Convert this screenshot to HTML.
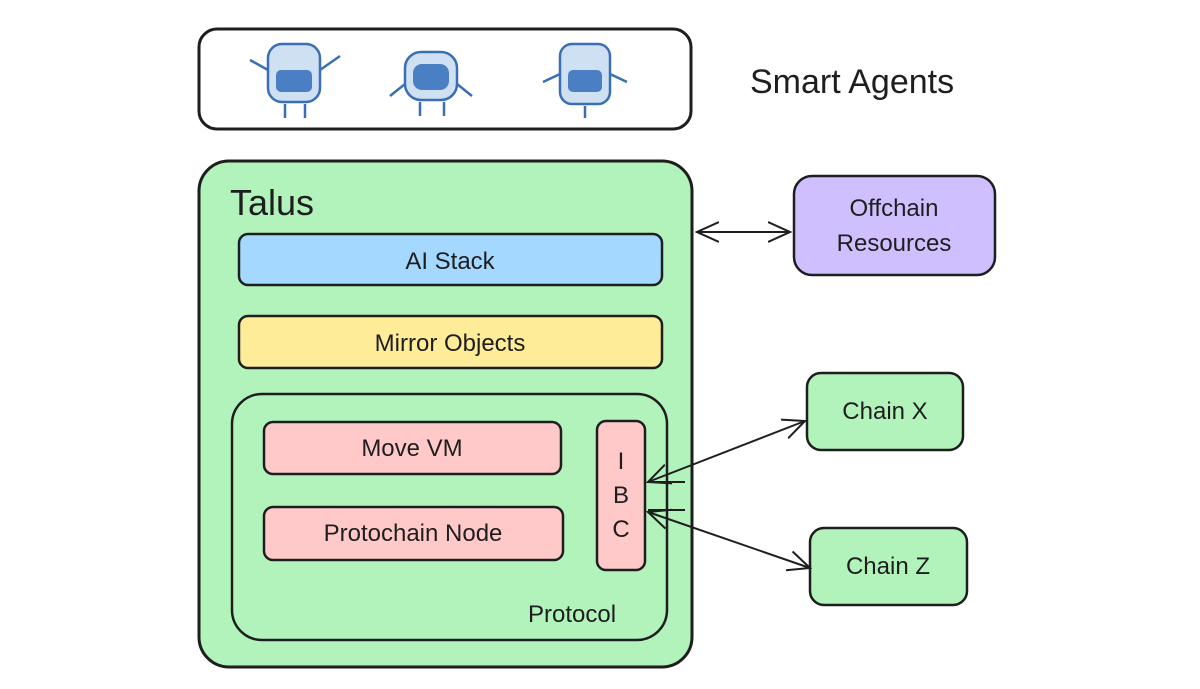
<!DOCTYPE html>
<html><head><style>
html,body{margin:0;padding:0;background:#fff;width:1200px;height:689px;overflow:hidden}
svg{display:block}
text{font-family:"Liberation Sans","DejaVu Sans",sans-serif;fill:#1e1e1e}
</style></head><body>
<svg width="1200" height="689" viewBox="0 0 1200 689" xmlns="http://www.w3.org/2000/svg">
<defs>
<marker id="ah2" markerWidth="24" markerHeight="24" refX="22" refY="12" orient="auto-start-reverse" markerUnits="userSpaceOnUse">
<path d="M0,2 L22,12 L0,22" fill="none" stroke="#1e1e1e" stroke-width="2"/>
</marker>
</defs>
<rect x="199" y="29" width="492" height="100" rx="18" fill="#fff" stroke="#1e1e1e" stroke-width="3"/>
<!-- robots -->
<g fill="#cfe0f3" stroke="#3a6fb5" stroke-width="2.5">
<rect x="268" y="44" width="52" height="58" rx="14"/>
<rect x="405" y="52" width="52" height="48" rx="16"/>
<rect x="560" y="44" width="50" height="60" rx="12"/>
</g>
<g fill="#4a7fc4">
<rect x="276" y="70" width="36" height="22" rx="5"/>
<rect x="413" y="64" width="36" height="26" rx="9"/>
<rect x="568" y="70" width="34" height="22" rx="5"/>
</g>
<g stroke="#3a6fb5" stroke-width="2.5" fill="none">
<path d="M268 70 L250 60 M320 70 L340 56 M285 104 L285 118 M305 104 L305 118"/>
<path d="M405 84 L390 96 M457 84 L472 96 M420 102 L420 116 M444 102 L444 116"/>
<path d="M560 74 L543 82 M610 74 L627 82 M585 106 L585 118"/>
</g>
<text x="750" y="93" font-size="34">Smart Agents</text>

<rect x="199" y="161" width="493" height="506" rx="30" fill="#b2f2bb" stroke="#1e1e1e" stroke-width="3"/>
<text x="230" y="215" font-size="36">Talus</text>
<rect x="239" y="234" width="423" height="51" rx="9" fill="#a5d8ff" stroke="#1e1e1e" stroke-width="2.5"/>
<text x="450" y="269" font-size="24" text-anchor="middle">AI Stack</text>
<rect x="239" y="316" width="423" height="52" rx="9" fill="#ffec99" stroke="#1e1e1e" stroke-width="2.5"/>
<text x="450" y="351" font-size="24" text-anchor="middle">Mirror Objects</text>
<rect x="232" y="394" width="435" height="246" rx="30" fill="none" stroke="#1e1e1e" stroke-width="2.5"/>
<rect x="264" y="422" width="297" height="52" rx="9" fill="#ffc9c9" stroke="#1e1e1e" stroke-width="2.5"/>
<text x="412" y="456" font-size="24" text-anchor="middle">Move VM</text>
<rect x="264" y="507" width="299" height="53" rx="9" fill="#ffc9c9" stroke="#1e1e1e" stroke-width="2.5"/>
<text x="413" y="541" font-size="24" text-anchor="middle">Protochain Node</text>
<rect x="597" y="421" width="48" height="149" rx="9" fill="#ffc9c9" stroke="#1e1e1e" stroke-width="2.5"/>
<text x="621" y="469" font-size="24" text-anchor="middle">I</text>
<text x="621" y="503" font-size="24" text-anchor="middle">B</text>
<text x="621" y="537" font-size="24" text-anchor="middle">C</text>
<text x="528" y="622" font-size="24">Protocol</text>

<rect x="794" y="176" width="201" height="99" rx="18" fill="#d0bfff" stroke="#1e1e1e" stroke-width="2.5"/>
<text x="894" y="216" font-size="24" text-anchor="middle">Offchain</text>
<text x="894" y="251" font-size="24" text-anchor="middle">Resources</text>
<rect x="807" y="373" width="156" height="77" rx="14" fill="#b2f2bb" stroke="#1e1e1e" stroke-width="2.5"/>
<text x="885" y="419" font-size="24" text-anchor="middle">Chain X</text>
<rect x="810" y="528" width="157" height="77" rx="14" fill="#b2f2bb" stroke="#1e1e1e" stroke-width="2.5"/>
<text x="888" y="574" font-size="24" text-anchor="middle">Chain Z</text>

<line x1="697" y1="232" x2="790" y2="232" stroke="#1e1e1e" stroke-width="2" marker-start="url(#ah2)" marker-end="url(#ah2)"/>
<line x1="648" y1="482" x2="805" y2="421" stroke="#1e1e1e" stroke-width="2" marker-start="url(#ah2)" marker-end="url(#ah2)"/>
<line x1="648" y1="512" x2="810" y2="568" stroke="#1e1e1e" stroke-width="2" marker-start="url(#ah2)" marker-end="url(#ah2)"/>
<path d="M648 482 L685 482 M648 510 L685 510" stroke="#1e1e1e" stroke-width="2"/>
</svg>
</body></html>
